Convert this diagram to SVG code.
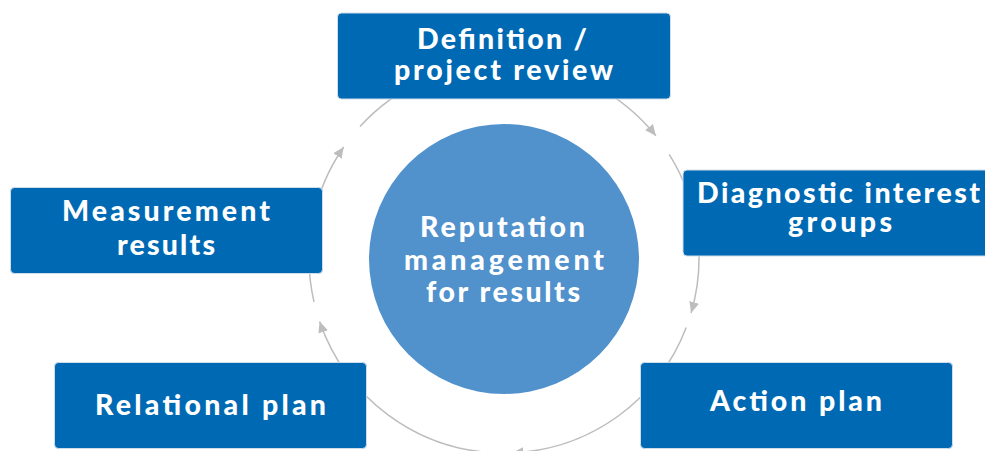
<svg xmlns="http://www.w3.org/2000/svg" width="985" height="451" viewBox="0 0 985 451">
  <style>
    .box { fill: #0069b4; stroke: #cfdcea; stroke-width: 1; }
    .hub { fill: #5191cc; }
    .lbl { font-family: Lato, "Liberation Sans", sans-serif; font-weight: 900; font-size: 28.5px; fill: #ffffff; text-anchor: middle; }
    .arc { fill: none; stroke: #bdbdbd; stroke-width: 1.5; marker-end: url(#arrow); }
  </style>
  <defs>
    <marker id="arrow" markerUnits="userSpaceOnUse" markerWidth="12" markerHeight="10" refX="11" refY="5" orient="auto">
      <path d="M0,0 L11,5 L0,10 z" fill="#bdbdbd"/>
    </marker>
  </defs>
  <rect width="985" height="451" fill="#ffffff"/>

  <g id="connectors">
    <path class="arc" d="M360.0,126.5 A195,195 0 0 1 655.9,135.8"/>
    <path class="arc" d="M669.2,154.4 A195,195 0 0 1 691.1,313.0"/>
    <path class="arc" d="M686.2,327.6 A195,195 0 0 1 512.2,452.8"/>
    <path class="arc" d="M497.2,452.9 A195,195 0 0 1 319.6,321.5"/>
    <path class="arc" d="M314.0,301.9 A195,195 0 0 1 343.7,147.0"/>
  </g>

  <g id="hub">
    <circle class="hub" cx="504" cy="259" r="135"/>
    <text class="lbl" x="502.5" y="236.5" textLength="165" lengthAdjust="spacing">Reputation</text>
    <text class="lbl" x="504" y="270" textLength="200" lengthAdjust="spacing">management</text>
    <text class="lbl" x="503" y="301.5" textLength="154" lengthAdjust="spacing">for results</text>
  </g>

  <g id="definition">
    <rect class="box" x="337.5" y="13" width="333" height="86" rx="4"/>
    <text class="lbl" x="502" y="48.5" textLength="170" lengthAdjust="spacing">Definition /</text>
    <text class="lbl" x="503.5" y="80" textLength="219" lengthAdjust="spacing">project review</text>
  </g>

  <g id="diagnostic">
    <rect class="box" x="683" y="170" width="312" height="86" rx="4"/>
    <text class="lbl" x="838.5" y="203" textLength="283" lengthAdjust="spacing">Diagnostic interest</text>
    <text class="lbl" x="840" y="232" textLength="104" lengthAdjust="spacing">groups</text>
  </g>

  <g id="action">
    <rect class="box" x="640.5" y="362.5" width="312" height="86" rx="4"/>
    <text class="lbl" x="796" y="410.5" textLength="172" lengthAdjust="spacing">Action plan</text>
  </g>

  <g id="relational">
    <rect class="box" x="54.5" y="362.5" width="312" height="86" rx="4"/>
    <text class="lbl" x="210.5" y="414.5" textLength="231" lengthAdjust="spacing">Relational plan</text>
  </g>

  <g id="measurement">
    <rect class="box" x="10.5" y="187.5" width="312" height="86" rx="4"/>
    <text class="lbl" x="166" y="221" textLength="208" lengthAdjust="spacing">Measurement</text>
    <text class="lbl" x="166" y="254.5" textLength="98" lengthAdjust="spacing">results</text>
  </g>
</svg>
